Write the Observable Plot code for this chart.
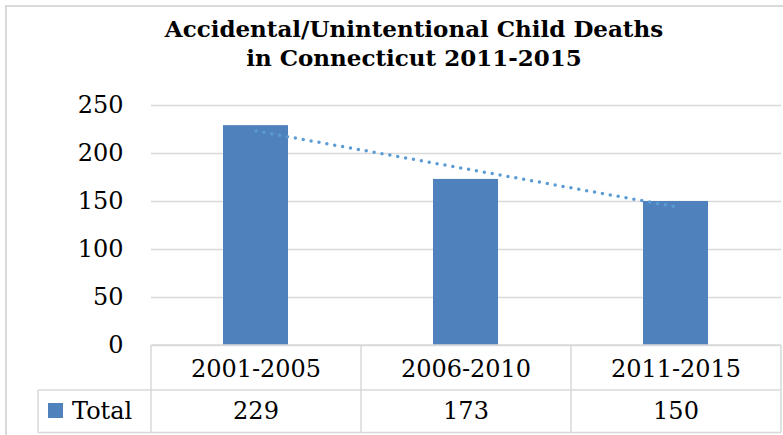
<!DOCTYPE html>
<html>
<head>
<meta charset="utf-8">
<script src="https://cdn.jsdelivr.net/npm/d3@7"></script>
<script src="https://cdn.jsdelivr.net/npm/@observablehq/plot@0.6"></script>
<style>
  body { margin: 0; background: #fff; }
  #wrap { position: relative; width: 783px; height: 435px; overflow: hidden; background: #fff; }
  #frame { position: absolute; left: 5px; top: 5px; width: 820px; height: 460px;
           border-left: 2px solid #d9d9d9; border-top: 2px solid #d9d9d9; pointer-events: none; }
  #title { height: 85px; box-sizing: border-box; padding-top: 15px; padding-left: 45px;
           text-align: center; font-family: "DejaVu Serif", serif; font-weight: bold;
           font-size: 23px; line-height: 28.5px; color: #000; }
  #chart svg { display: block; }
</style>
</head>
<body>
<div id="wrap">
  <div id="title">Accidental/Unintentional Child Deaths<br>in Connecticut 2011-2015</div>
  <div id="chart"></div>
  <div id="frame"></div>
</div>
<script>
const periods = ["2001-2005", "2006-2010", "2011-2015"];
const totals = [229, 173, 150];
const yTicks = [0, 50, 100, 150, 200, 250];
const seriesName = "Total";

const data = periods.map((p, i) => ({period: p, value: totals[i]}));

// linear (least-squares) trendline over the category index, as in the spreadsheet
const xs = totals.map((_, i) => i + 1);
const mx = d3.mean(xs), my = d3.mean(totals);
const slope = d3.sum(xs.map((x, i) => (x - mx) * (totals[i] - my))) / d3.sum(xs.map(x => (x - mx) ** 2));
const trend = periods.map((p, i) => ({period: p, value: my + slope * (xs[i] - mx)}));

const font = '"DejaVu Serif", serif';
const chart = Plot.plot({
  width: 783, height: 350,
  marginTop: 20, marginBottom: 90, marginLeft: 151, marginRight: 2,
  style: {fontFamily: font, fontSize: "24px", color: "#000", background: "transparent", overflow: "visible"},
  x: {domain: periods, paddingInner: 0.69, paddingOuter: 0.345, label: null},
  y: {domain: [0, 250], label: null},
  marks: [
    Plot.gridY({ticks: yTicks, stroke: "#d9d9d9", strokeOpacity: 1, strokeWidth: 1.5}),
    Plot.barY(data, {x: "period", y: "value", fill: "#4f81bd"}),
    Plot.line(trend, {x: "period", y: "value", stroke: "#5b9bd5", strokeWidth: 3.5,
                      strokeDasharray: "0 8", strokeLinecap: "round"}),
    Plot.axisY({ticks: yTicks, tickSize: 0, tickPadding: 28, fontSize: 24, label: null}),
    Plot.axisX({tickSize: 0, tickPadding: 14, fontSize: 24, label: null}),
    Plot.text(data, {x: "period", text: "value", frameAnchor: "bottom", lineAnchor: "middle",
                     dy: 66, fontSize: 24, fill: "#000"})
  ]
});
document.getElementById("chart").appendChild(chart);

// data table grid below the plot, positioned from the plot's own scales
const xs_ = chart.scale("x"), ys_ = chart.scale("y");
const x0 = xs_.range[0], x1 = xs_.range[1];
const step = (x1 - x0) / periods.length;
const yBase = ys_.apply(0);
const yRow = yBase + 45, yEnd = yBase + 87.5;
const tableLeft = 38;
const svg = d3.select(chart);
const g = svg.append("g").attr("stroke", "#d9d9d9").attr("stroke-width", 1.5).attr("fill", "none");
g.append("line").attr("x1", x0).attr("x2", x1).attr("y1", yBase).attr("y2", yBase);
g.append("line").attr("x1", tableLeft).attr("x2", x1).attr("y1", yRow).attr("y2", yRow);
g.append("line").attr("x1", tableLeft).attr("x2", x1).attr("y1", yEnd).attr("y2", yEnd);
g.append("line").attr("x1", tableLeft).attr("x2", tableLeft).attr("y1", yRow).attr("y2", yEnd);
for (let i = 0; i <= periods.length; i++) {
  const xx = x0 + i * step;
  g.append("line").attr("x1", xx).attr("x2", xx).attr("y1", yBase).attr("y2", yEnd);
}
// legend key + series name
svg.append("rect").attr("x", 48).attr("y", yRow + 13).attr("width", 15).attr("height", 15).attr("fill", "#4f81bd");
svg.append("text").attr("x", 72).attr("y", (yRow + yEnd) / 2).attr("dy", "0.32em")
  .attr("text-anchor", "start")
  .attr("font-family", font).attr("font-size", 24).attr("fill", "#000").text(seriesName);
</script>
</body>
</html>
